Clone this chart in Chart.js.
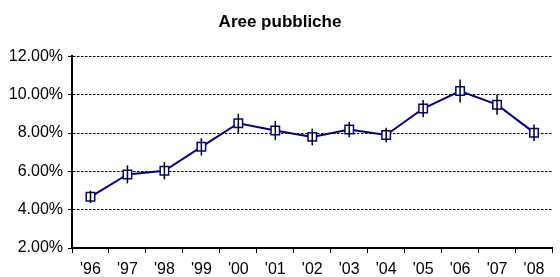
<!DOCTYPE html>
<html>
<head>
<meta charset="utf-8">
<script src="https://cdn.jsdelivr.net/npm/chart.js@4/dist/chart.umd.min.js"></script>
<style>
  html, body { margin: 0; padding: 0; background: #fff; }
  #wrap { width: 560px; height: 277px; }
</style>
</head>
<body>
<div id="wrap"><canvas id="grafico"></canvas></div>
<script>
// dati
var anni = ["'96", "'97", "'98", "'99", "'00", "'01", "'02", "'03", "'04", "'05", "'06", "'07", "'08"];
var valori = [4.67, 5.84, 6.03, 7.28, 8.51, 8.13, 7.80, 8.18, 7.90, 9.28, 10.19, 9.48, 8.02];
var errori = [0.32, 0.47, 0.45, 0.45, 0.5, 0.5, 0.44, 0.4, 0.38, 0.45, 0.6, 0.52, 0.43];
var yTicks = [2, 4, 6, 8, 10, 12];

// barre di errore verticali
var barreErrore = {
  id: 'barreErrore',
  afterDatasetsDraw: function (chart) {
    var ctx = chart.ctx;
    var meta = chart.getDatasetMeta(0);
    var y = chart.scales.y;
    ctx.save();
    ctx.strokeStyle = '#000';
    ctx.lineWidth = 1.5;
    for (var i = 0; i < valori.length; i++) {
      var x = meta.data[i].x;
      ctx.beginPath();
      ctx.moveTo(x, y.getPixelForValue(valori[i] - errori[i]));
      ctx.lineTo(x, y.getPixelForValue(valori[i] + errori[i]));
      ctx.stroke();
    }
    ctx.restore();
  }
};

var ctx = document.getElementById('grafico');
var chartGraph = new Chart(ctx, {
  type: 'line',
  data: {
    labels: anni,
    datasets: [{
      label: 'Aree pubbliche',
      data: valori,
      borderColor: '#000080',
      borderWidth: 2,
      pointStyle: 'rect',
      pointRadius: 6,
      pointBorderWidth: 1.5,
      pointBorderColor: '#000080',
      pointBackgroundColor: '#fff',
      tension: 0
    }]
  },
  plugins: [barreErrore],
  options: {
    responsive: true,
    maintainAspectRatio: false,
    animation: false,
    plugins: {
      legend: { display: false },
      tooltip: { enabled: false },
      title: {
        display: true,
        text: 'Aree pubbliche',
        color: '#000',
        font: { family: 'Liberation Sans, Arial', size: 17, weight: 'bold' },
        padding: { top: 12, bottom: 24 }
      }
    },
    scales: {
      x: {
        offset: true,
        grid: {
          display: true,
          drawOnChartArea: false,
          offset: true,
          color: '#000',
          tickLength: 5
        },
        border: { color: '#000', width: 2 },
        ticks: {
          color: '#000',
          padding: 7,
          maxRotation: 0,
          font: { family: 'Liberation Sans, Arial', size: 16 }
        },
        afterFit: function (s) { s.height = 29; }
      },
      y: {
        min: 2,
        max: 12,
        afterBuildTicks: function (s) {
          s.ticks = yTicks.map(function (v) { return { value: v }; });
        },
        grid: {
          color: '#000',
          lineWidth: 1,
          tickLength: 4,
          tickColor: '#000'
        },
        border: { color: '#000', width: 2, dash: [2.5, 1.5] },
        ticks: {
          color: '#000',
          padding: 5,
          font: { family: 'Liberation Sans, Arial', size: 16 },
          callback: function (v) { return v.toFixed(2) + '%'; }
        },
        afterFit: function (s) { s.width = 72; }
      }
    }
  }
});
</script>
</body>
</html>
